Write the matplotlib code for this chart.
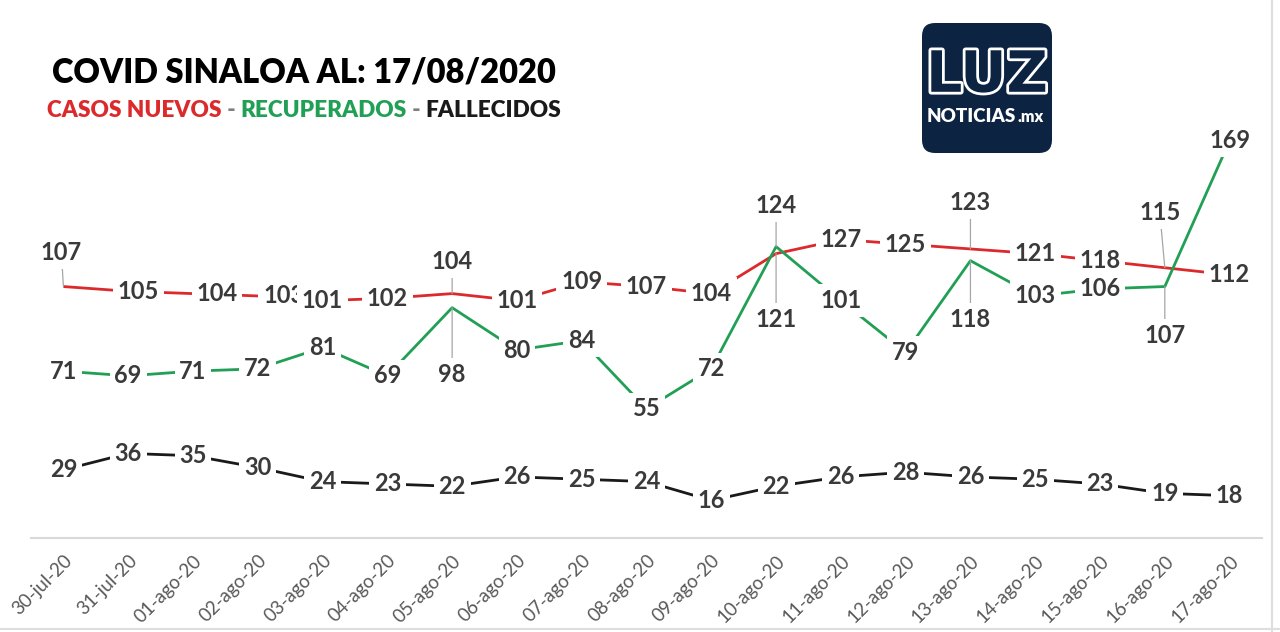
import matplotlib
matplotlib.use("Agg")
import matplotlib.pyplot as plt
import matplotlib.patheffects as pe
from matplotlib.patches import FancyBboxPatch
from matplotlib.lines import Line2D

fechas = ["30-jul-20", "31-jul-20", "01-ago-20", "02-ago-20", "03-ago-20", "04-ago-20",
          "05-ago-20", "06-ago-20", "07-ago-20", "08-ago-20", "09-ago-20", "10-ago-20",
          "11-ago-20", "12-ago-20", "13-ago-20", "14-ago-20", "15-ago-20", "16-ago-20",
          "17-ago-20"]
casos_nuevos = [107, 105, 104, 103, 101, 102, 104, 101, 109, 107, 104, 121, 127, 125,
                123, 121, 118, 115, 112]
recuperados = [71, 69, 71, 72, 81, 69, 98, 80, 84, 55, 72, 124, 101, 79, 118, 103, 106,
               107, 169]
fallecidos = [29, 36, 35, 30, 24, 23, 22, 26, 25, 24, 16, 22, 26, 28, 26, 25, 23, 19, 18]

ROJO = "#dc2a2c"
VERDE = "#21a055"
NEGRO = "#1a1a1a"
GRIS_ETIQ = "#3a3a3a"
FUENTE = ["Lato", "DejaVu Sans"]

# desplazamiento (pixeles x, y) de etiquetas que no van centradas en el punto
despl_rojo = {0: (-2, 34), 1: (10, 0), 2: (24, 0), 3: (26, 0), 6: (0, 32),
              11: (0, -66), 14: (0, 46), 17: (-5, 55)}
despl_verde = {6: (0, -67), 11: (0, 41), 14: (0, -59), 17: (0, -49)}

W, H = 1280, 632
fig = plt.figure(figsize=(W / 100, H / 100), dpi=100)
fig.patch.set_facecolor("white")

ax = fig.add_axes([31 / W, (H - 538) / H, 1231 / W, 470 / H])
ax.set_xlim(-0.5, len(fechas) - 0.5)
ax.set_ylim(0, 200)
x = list(range(len(fechas)))

for serie, color in [(casos_nuevos, ROJO), (recuperados, VERDE), (fallecidos, NEGRO)]:
    ax.plot(x, serie, color=color, lw=2.0, zorder=2, solid_capstyle="butt")


def etiquetas(serie, despl):
    for i, v in enumerate(serie):
        dx, dy = despl.get(i, (0, 0))
        kw = dict(xy=(i, v), xytext=(dx, dy), textcoords="offset pixels",
                  ha="center", va="center", fontsize=17, fontweight="bold",
                  color=GRIS_ETIQ, family=FUENTE, zorder=3, annotation_clip=False,
                  bbox=dict(boxstyle="square,pad=0.2", fc="white", ec="none"))
        if dy:
            kw["arrowprops"] = dict(arrowstyle="-", color="#a6a6a6", lw=0.9,
                                    shrinkA=0, shrinkB=0)
        ax.annotate(str(v), **kw)


etiquetas(casos_nuevos, despl_rojo)
etiquetas(recuperados, despl_verde)
etiquetas(fallecidos, {})

for s in ["top", "left", "right"]:
    ax.spines[s].set_visible(False)
ax.spines["bottom"].set_color("#d9d9d9")
ax.spines["bottom"].set_linewidth(1.5)
ax.set_yticks([])
ax.set_xticks(x)
ax.set_xticklabels(fechas, rotation=45, ha="right", rotation_mode="anchor",
                   family=FUENTE, fontsize=13.5, color="#595959")
ax.tick_params(axis="x", length=0, pad=10)

# titulo y subtitulo
rend = fig.canvas.get_renderer()
titulo = fig.text(52 / W, 1 - 83 / H, "COVID SINALOA AL: 17/08/2020", fontsize=24,
                  fontweight="heavy", color="black", family=FUENTE, va="baseline")
ancho = titulo.get_window_extent(rend).width
titulo.set_fontsize(24 * 505 / ancho)

partes = [("CASOS NUEVOS", ROJO), (" - ", "#7f7f7f"), ("RECUPERADOS", VERDE),
          (" - ", "#7f7f7f"), ("FALLECIDOS", NEGRO)]


def subtitulo(tam):
    textos = []
    xpos = 47 / W
    for s, c in partes:
        t = fig.text(xpos, 1 - 117 / H, s, fontsize=tam, fontweight="heavy", color=c,
                     family=FUENTE, va="baseline")
        xpos = t.get_window_extent(rend).x1 / W
        textos.append(t)
    return textos, xpos * W - 47


textos, ancho = subtitulo(16)
for t in textos:
    t.remove()
subtitulo(16 * 516 / ancho)

# logo
axl = fig.add_axes([922 / W, (H - 153) / H, 130 / W, 130 / H])
axl.set_xlim(0, 1)
axl.set_ylim(0, 1)
axl.axis("off")
axl.add_patch(FancyBboxPatch((0, 0), 1, 1, boxstyle="round,pad=0,rounding_size=0.1",
                             fc="#0d2342", ec="none"))
axl.text(0.5, 0.59, "LUZ", ha="center", va="center", fontsize=41, fontweight="bold",
         color="#0d2342", family="DejaVu Sans",
         path_effects=[pe.Stroke(linewidth=4, foreground="white"), pe.Normal()])
noticias = axl.text(927 / W, 1 - 122 / H, "NOTICIAS", ha="left", va="baseline",
                    fontsize=13.5, fontweight="heavy", color="white", family=FUENTE,
                    transform=fig.transFigure)
fin = noticias.get_window_extent(rend).x1
axl.text(fin / W + 1 / W, 1 - 122 / H, ".mx", ha="left", va="baseline", fontsize=11.5,
         fontweight="heavy", color="white", family=FUENTE, transform=fig.transFigure)

# marco claro a la derecha y abajo
fig.add_artist(Line2D([1272 / W, 1272 / W], [0, 1], color="#dedede", lw=1.5))
fig.add_artist(Line2D([0, 1], [3 / H, 3 / H], color="#dedede", lw=1.5))

fig.savefig("out.png", dpi=100, facecolor="white")
